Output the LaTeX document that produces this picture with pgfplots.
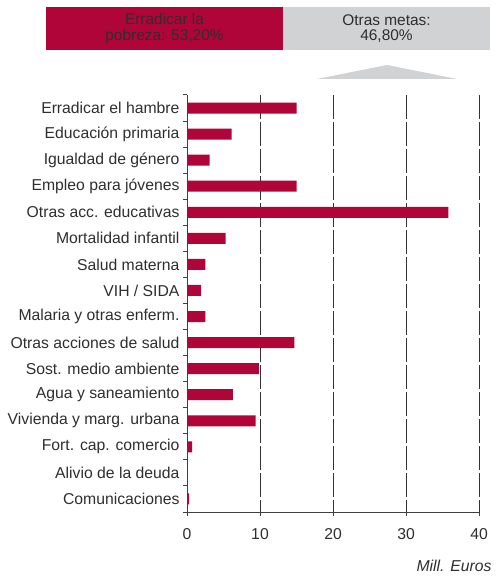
\documentclass[border=0pt]{standalone}
\usepackage{fontspec}
\setmainfont{Liberation Sans}
\usepackage{pgfplots}
\pgfplotsset{compat=1.18}
\definecolor{barred}{HTML}{B00538}
\definecolor{bannergray}{HTML}{D1D2D4}
\definecolor{txt}{HTML}{2E2E2E}
\begin{document}
\begin{tikzpicture}[x=1bp,y=1bp]
\useasboundingbox (0,0) rectangle (496,577);
\fill[barred] (46,527) rectangle (283,570);
\fill[bannergray] (283,527) rectangle (490,570);
\node[align=center, font=\fontsize{15.5}{15.5}\selectfont, text=txt] at (164.5,548.5) {Erradicar la\\pobreza: 53,20\%};
\node[align=center, font=\fontsize{15.5}{15.5}\selectfont, text=txt] at (386.5,548.5) {Otras metas:\\46,80\%};
\fill[bannergray] (317,498) -- (387,512) -- (457,498) -- cycle;
\begin{axis}[
  at={(187bp,65bp)}, anchor=south west,
  width=292bp, height=417bp, scale only axis,
  xmin=0, xmax=40, ymin=-0.5, ymax=15.5, y dir=reverse,
  axis lines*=left,
  axis line style={-, line width=1bp, draw=black!75},
  xtick={0,10,20,30,40},
  ytick={0,...,15},
  yticklabels={Erradicar el hambre, Educación primaria, Igualdad de género, Empleo para jóvenes, Otras acc. educativas, Mortalidad infantil, Salud materna, VIH / SIDA, Malaria y otras enferm., Otras acciones de salud, Sost. medio ambiente, Agua y saneamiento, Vivienda y marg. urbana, Fort. cap. comercio, Alivio de la deuda, Comunicaciones},
  minor ytick={-0.5,0.5,...,15.5},
  every major y tick/.append style={draw=none},
  tick align=outside,
  major tick length=4bp, minor tick length=4bp,
  tick style={line width=1bp, black!75},
  xmajorgrids,
  major grid style={dash pattern=on 24bp off 3bp, line width=0.9bp, black!80},
  yticklabel style={font=\fontsize{15.8}{18}\selectfont, text=txt},
  xticklabel style={font=\fontsize{15.8}{18}\selectfont, text=txt, anchor=north, yshift=-9bp},
  /pgf/number format/assume math mode=true,
  clip=false,
]
\addplot[xbar, fill=barred, draw=none, bar width=11bp] coordinates {
(15.0,0) (6.1,1) (3.1,2) (15.0,3) (35.8,4) (5.3,5) (2.5,6) (1.95,7) (2.5,8) (14.7,9) (9.85,10) (6.3,11) (9.4,12) (0.7,13) (0,14) (0.3,15)};
\end{axis}
\node[anchor=base east, font=\fontsize{15.8}{18}\selectfont\itshape, text=txt] at (495,5) {Mill. Euros};
\end{tikzpicture}
\end{document}
